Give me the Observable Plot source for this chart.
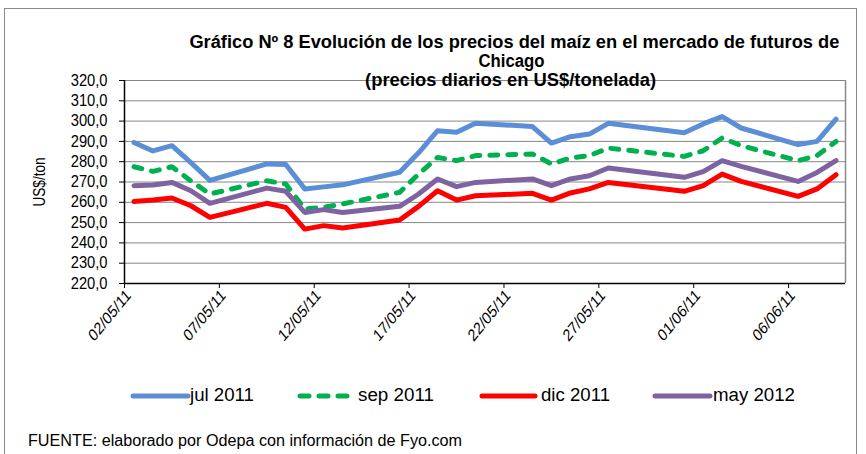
<!DOCTYPE html>
<html><head><meta charset="utf-8">
<script src="https://cdn.jsdelivr.net/npm/d3@7"></script>
<script src="https://cdn.jsdelivr.net/npm/@observablehq/plot@0.6"></script>
<style>
body{margin:0;background:#fff;font-family:Arial,"Liberation Sans",sans-serif;}
#wrap{position:relative;width:866px;height:454px;overflow:hidden;}
#frame{position:absolute;left:4px;top:8px;width:853px;height:460px;border:1px solid #8a8a8a;box-sizing:border-box;}
.t{position:absolute;white-space:nowrap;color:#000;line-height:1;}
.title{font-weight:bold;font-size:18px;transform-origin:center center;}
.leg{font-size:18px;transform-origin:left center;}
.sw{position:absolute;}
</style></head><body><div id="wrap"><div id="frame"></div></div>
<script>
// ---------- data ----------
const dates = ["2011-05-02","2011-05-03","2011-05-04","2011-05-05","2011-05-06",
"2011-05-09","2011-05-10","2011-05-11","2011-05-12","2011-05-13",
"2011-05-16","2011-05-17","2011-05-18","2011-05-19","2011-05-20",
"2011-05-23","2011-05-24","2011-05-25","2011-05-26","2011-05-27",
"2011-05-31","2011-06-01","2011-06-02","2011-06-03",
"2011-06-06","2011-06-07","2011-06-08"];
const jul2011 = [289.5,285.3,287.9,279.5,270.8,278.9,278.6,266.6,267.6,268.6,274.8,284.4,295.3,294.5,299.0,297.3,289.2,292.3,293.6,298.9,294.3,298.6,302.2,296.6,288.4,290.0,301.0];
const sep2011 = [277.5,275.2,277.5,270.6,264.1,270.6,269.0,256.7,257.5,259.2,264.9,273.9,282.1,280.5,283.0,283.8,278.9,281.8,283.0,286.7,282.6,285.4,291.7,287.9,280.5,283.0,290.0];
const dic2011 = [260.4,261.1,262.1,258.3,252.6,259.5,257.5,246.8,248.5,247.3,251.3,258.0,265.7,261.1,263.2,264.4,261.1,264.6,266.6,269.8,265.4,268.2,273.9,270.3,262.9,266.6,273.6];
const may2012 = [268.2,268.5,269.8,265.7,259.5,267.0,265.4,255.0,256.4,255.0,258.0,264.1,271.5,267.7,269.8,271.5,268.2,271.5,273.1,276.9,272.3,275.1,280.5,277.7,270.3,274.7,280.5];
const seriesNames = ["jul 2011","sep 2011","dic 2011","may 2012"];
const seriesValues = [jul2011, sep2011, dic2011, may2012];
const seriesColors = ["#5B8ED6","#00B050","#FF0000","#7F63A1"];
const seriesDash = [null,"8,10",null,null];
const xTickDates = ["2011-05-02","2011-05-07","2011-05-12","2011-05-17","2011-05-22","2011-05-27","2011-06-01","2011-06-06"];
const xDomain = ["2011-05-02","2011-06-09"];
const yTicks = [220,230,240,250,260,270,280,290,300,310,320];
const titleLines = ["Gráfico Nº 8 Evolución de los precios del maíz en el mercado de futuros de","Chicago","(precios diarios en US$/tonelada)"];
const yLabel = "US$/ton";
const footer = "FUENTE: elaborado por Odepa con información de Fyo.com";

// ---------- build ----------
const parse = s => new Date(s + "T00:00:00Z");
const noon = s => new Date(s + "T12:00:00Z"); // Excel date axis: point in middle of day slot
const series = seriesNames.map((name, i) => dates.map((d, j) => ({date: noon(d), value: seriesValues[i][j], series: name})));

const x0 = parse(xDomain[0]), x1 = parse(xDomain[1]);
const marks = [
  Plot.gridY(yTicks, {stroke: "#868686", strokeOpacity: 1, strokeWidth: 1}),
  Plot.ruleX([x1], {stroke: "#8a8a8a", strokeWidth: 1.5}),
  ...series.map((data, i) => Plot.lineY(data, {x: "date", y: "value", stroke: seriesColors[i], strokeWidth: 5,
      strokeDasharray: seriesDash[i] || undefined, strokeLinecap: "round", strokeLinejoin: "round"})),
  Plot.ruleY([220], {stroke: "#000", strokeWidth: 1.5}),
  Plot.ruleX([x0], {stroke: "#000", strokeWidth: 1.5}),
  Plot.axisY(yTicks, {tickSize: 5, tickPadding: 12, fontSize: 16, tickFormat: d => d.toFixed(1).replace(".", ","), label: null, stroke: "#000"}),
  Plot.axisX(xTickDates.map(parse), {tickSize: 5, tickPadding: 3, fontSize: 17, tickRotate: -45, tickFormat: d3.utcFormat("%d/%m/%y"), label: null, stroke: "#000"})
];
const chart = Plot.plot({
  width: 866, height: 454,
  marginLeft: 124, marginRight: 21, marginTop: 80, marginBottom: 171,
  style: {fontFamily: "Arial, 'Liberation Sans', sans-serif", fontSize: "16px", background: "transparent", color: "#000", overflow: "visible"},
  x: {type: "utc", domain: [x0, x1]},
  y: {domain: [220, 320]},
  marks
});
// condensed look of the original text (tall, narrow glyphs)
chart.querySelectorAll("g[aria-label='y-axis tick label'] text").forEach(t => {
  const tr = t.getAttribute("transform") || "";
  t.setAttribute("transform", tr + " scale(0.92,1)");
});
chart.querySelectorAll("g[aria-label='x-axis tick label'] text").forEach(t => {
  const tr = t.getAttribute("transform") || "";
  if (tr.includes("rotate(")) t.setAttribute("transform", tr.replace("rotate(", "translate(4,1) scale(0.82,1) rotate("));
  else t.setAttribute("transform", tr + " scale(0.82,1)");
});
chart.style.position = "absolute"; chart.style.left = "0"; chart.style.top = "0";
const wrap = document.getElementById("wrap");
wrap.appendChild(chart);

function addText(txt, cls, left, top, targetW, anchor) {
  const el = document.createElement("div");
  el.className = "t " + cls; el.textContent = txt;
  wrap.appendChild(el);
  const w = el.getBoundingClientRect().width;
  const s = targetW ? targetW / w : 1;
  if (anchor === "center") { el.style.left = (left - w / 2) + "px"; }
  else el.style.left = left + "px";
  el.style.top = top + "px";
  el.style.transform = `scaleX(${s})`;
  return el;
}
addText(titleLines[0], "title", 514, 33, 650, "center");
addText(titleLines[1], "title", 512, 52, 66, "center");
addText(titleLines[2], "title", 511, 71, 291, "center");

// y label
const yl = document.createElement("div");
yl.className = "t"; yl.textContent = yLabel; yl.style.fontSize = "16px";
wrap.appendChild(yl);
const ylw = yl.getBoundingClientRect().width;
yl.style.left = (40 - ylw / 2) + "px"; yl.style.top = (182 - 8) + "px";
yl.style.transform = "rotate(-90deg) scaleX(0.85)";

// legend
const legX = [133, 300, 482, 655], legTextX = [190, 358, 541, 713], legW = [55, 52, 53, 55], legTextW = [64, 76, 69, 82];
seriesNames.forEach((name, i) => {
  const s = d3.create("svg").attr("width", legW[i] + 6).attr("height", 10).attr("class", "sw")
    .style("left", (legX[i] - 3) + "px").style("top", "391px");
  s.append("line").attr("x1", 3).attr("x2", legW[i] + 3).attr("y1", 5).attr("y2", 5)
    .attr("stroke", seriesColors[i]).attr("stroke-width", 5).attr("stroke-linecap", "round")
    .attr("stroke-dasharray", seriesDash[i] ? "9,10" : null);
  wrap.appendChild(s.node());
  addText(name, "leg", legTextX[i], 386, legTextW[i]);
});
const f = addText(footer, "leg", 28, 433, null);
f.style.fontSize = "16px";
const fw = f.getBoundingClientRect().width;
f.style.transform = `scaleX(${434 / fw})`;
</script>
</body></html>
